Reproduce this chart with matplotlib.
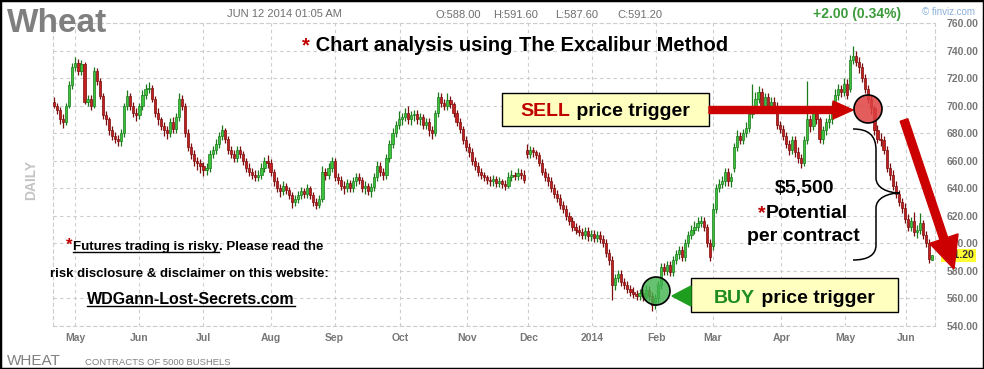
import matplotlib.pyplot as plt
import matplotlib.transforms as mtransforms
from matplotlib.patches import Circle, FancyArrow, Polygon, Rectangle, PathPatch
from matplotlib.path import Path
import numpy as np

plt.rcParams['font.family'] = ['Liberation Sans', 'DejaVu Sans']

W, H = 984, 369

# daily OHLC, Apr 22 2013 .. Jun 12 2014
opens = [
    703, 700, 697, 690, 688, 700, 715, 728, 731, 725,
    730, 703, 705, 700, 725, 718, 707, 693, 690, 682,
    678, 676, 674, 680, 700, 707, 700, 695, 693, 700,
    708, 712, 713, 705, 695, 690, 685, 682, 680, 688,
    683, 692, 705, 700, 680, 670, 665, 660, 658, 656,
    653, 655, 665, 668, 672, 678, 682, 676, 668, 665,
    662, 668, 665, 660, 655, 652, 650, 648, 650, 655,
    660, 658, 652, 645, 640, 638, 642, 639, 635, 630,
    632, 635, 638, 636, 640, 635, 630, 628, 632, 652,
    650, 655, 660, 648, 646, 642, 640, 644, 640, 645,
    648, 646, 640, 642, 638, 641, 648, 656, 652, 650,
    662, 672, 680, 686, 690, 692, 695, 690, 693, 694,
    690, 692, 686, 688, 682, 680, 695, 706, 702, 700,
    704, 701, 695, 688, 683, 675, 670, 666, 660, 656,
    652, 650, 648, 646, 645, 647, 644, 645, 643, 642,
    648, 650, 649, 651, 650, 668, 665, 668, 666, 664,
    658, 652, 648, 645, 640, 636, 633, 628, 625, 620,
    616, 612, 610, 608, 606, 609, 605, 607, 604, 606,
    603, 600, 593, 588, 570, 575, 578, 572, 570, 567,
    565, 563, 562, 564, 561, 566, 562, 555, 560, 570,
    583, 580, 584, 579, 588, 592, 595, 590, 600, 606,
    610, 612, 615, 616, 612, 600, 598, 625, 640, 643,
    645, 652, 645, 655, 670, 678, 675, 680, 684, 694,
    700, 705, 710, 700, 706, 698, 703, 700, 686, 683,
    678, 672, 668, 675, 666, 662, 658, 675, 690, 685,
    695, 690, 676, 682, 688, 690, 700, 708, 712, 710,
    716, 712, 733, 736, 732, 728, 720, 712, 705, 698,
    682, 676, 675, 668, 655, 650, 642, 636, 630, 626,
    618, 612, 616, 608, 610, 615, 606, 600, 588.0,
]
highs = [
    706, 702, 699, 694, 702, 718, 731, 735, 734, 733,
    732, 708, 708, 728, 727, 720, 709, 696, 692, 685,
    681, 679, 683, 702, 711, 709, 703, 698, 702, 711,
    716, 717, 715, 707, 698, 692, 688, 685, 691, 692,
    695, 709, 708, 702, 683, 673, 668, 663, 661, 659,
    658, 668, 671, 676, 681, 686, 684, 678, 671, 668,
    671, 671, 667, 662, 658, 655, 653, 653, 658, 663,
    664, 661, 654, 648, 643, 645, 644, 641, 637, 635,
    638, 641, 640, 643, 642, 637, 633, 635, 656, 655,
    658, 663, 662, 651, 649, 645, 647, 646, 648, 651,
    651, 648, 645, 644, 644, 651, 660, 659, 655, 665,
    675, 684, 689, 696, 695, 698, 700, 696, 697, 697,
    695, 694, 691, 691, 685, 697, 710, 709, 705, 709,
    707, 703, 697, 691, 685, 678, 673, 669, 663, 659,
    655, 652, 650, 649, 650, 649, 648, 647, 646, 652,
    653, 652, 655, 654, 653, 672, 671, 670, 668, 666,
    661, 655, 651, 648, 643, 639, 636, 631, 628, 623,
    619, 615, 613, 611, 612, 612, 610, 610, 609, 609,
    606, 603, 596, 591, 578, 581, 581, 575, 573, 570,
    568, 566, 567, 567, 570, 569, 565, 563, 573, 586,
    586, 587, 587, 591, 595, 598, 598, 603, 609, 613,
    616, 619, 620, 619, 614, 603, 629, 643, 647, 649,
    655, 655, 651, 673, 682, 681, 683, 688, 698, 716,
    710, 714, 713, 709, 709, 706, 706, 703, 689, 686,
    681, 675, 678, 678, 670, 665, 678, 718, 693, 698,
    698, 692, 685, 691, 694, 703, 712, 716, 715, 720,
    719, 737, 743, 740, 735, 731, 723, 715, 708, 700,
    686, 680, 678, 671, 658, 653, 645, 639, 633, 629,
    621, 619, 623, 613, 622, 617, 609, 603, 591.6,
]
lows = [
    698, 694, 687, 684, 686, 698, 712, 725, 722, 722,
    701, 700, 697, 698, 715, 705, 690, 686, 679, 675,
    673, 671, 671, 677, 697, 697, 692, 689, 690, 697,
    705, 709, 703, 692, 686, 682, 678, 676, 677, 680,
    680, 689, 697, 677, 667, 661, 656, 653, 651, 649,
    650, 652, 662, 665, 669, 675, 673, 665, 662, 659,
    659, 662, 657, 652, 649, 647, 645, 645, 647, 652,
    655, 649, 642, 637, 634, 635, 636, 632, 626, 627,
    629, 632, 633, 633, 632, 627, 625, 626, 630, 646,
    647, 652, 645, 643, 639, 636, 637, 637, 637, 642,
    643, 637, 636, 635, 634, 638, 645, 649, 646, 647,
    659, 669, 677, 683, 686, 689, 687, 686, 689, 687,
    686, 683, 683, 678, 676, 678, 692, 699, 697, 697,
    698, 692, 685, 680, 672, 667, 663, 657, 653, 649,
    647, 645, 643, 642, 642, 641, 641, 640, 639, 640,
    645, 646, 646, 647, 644, 662, 662, 663, 661, 656,
    650, 645, 642, 637, 633, 630, 625, 622, 617, 613,
    609, 607, 605, 603, 603, 602, 602, 601, 601, 600,
    597, 590, 584, 559, 566, 572, 569, 567, 564, 562,
    560, 559, 559, 558, 558, 559, 551, 552, 557, 567,
    577, 577, 576, 576, 585, 589, 587, 587, 597, 603,
    607, 609, 612, 609, 597, 587, 595, 622, 637, 640,
    642, 642, 641, 652, 667, 672, 672, 677, 681, 691,
    697, 702, 697, 697, 695, 695, 697, 683, 680, 675,
    669, 664, 665, 663, 658, 655, 656, 672, 681, 682,
    687, 673, 672, 679, 684, 687, 697, 704, 706, 707,
    705, 710, 730, 729, 724, 717, 709, 702, 694, 679,
    673, 671, 665, 652, 646, 639, 633, 627, 622, 615,
    609, 609, 605, 604, 607, 603, 597, 586, 587.6,
]
closes = [
    700, 697, 690, 688, 700, 715, 728, 731, 725, 730,
    703, 705, 700, 725, 718, 707, 693, 690, 682, 678,
    676, 674, 680, 700, 707, 700, 695, 693, 700, 708,
    712, 713, 705, 695, 690, 685, 682, 680, 688, 683,
    692, 705, 700, 680, 670, 665, 660, 658, 656, 653,
    655, 665, 668, 672, 678, 682, 676, 668, 665, 662,
    668, 665, 660, 655, 652, 650, 648, 650, 655, 660,
    658, 652, 645, 640, 638, 642, 639, 635, 630, 632,
    635, 638, 636, 640, 635, 630, 628, 632, 652, 650,
    655, 660, 648, 646, 642, 640, 644, 640, 645, 648,
    646, 640, 642, 638, 641, 648, 656, 652, 650, 662,
    672, 680, 686, 690, 692, 695, 690, 693, 694, 690,
    692, 686, 688, 682, 680, 695, 706, 702, 700, 704,
    701, 695, 688, 683, 675, 670, 666, 660, 656, 652,
    650, 648, 646, 645, 647, 644, 645, 643, 642, 648,
    650, 649, 651, 650, 646, 665, 668, 666, 664, 658,
    652, 648, 645, 640, 636, 633, 628, 625, 620, 616,
    612, 610, 608, 606, 609, 605, 607, 604, 606, 603,
    600, 593, 588, 570, 575, 578, 572, 570, 567, 565,
    563, 562, 564, 561, 566, 562, 555, 560, 570, 583,
    580, 584, 579, 588, 592, 595, 590, 600, 606, 610,
    612, 615, 616, 612, 600, 590, 625, 640, 643, 645,
    652, 645, 648, 670, 678, 675, 680, 684, 694, 700,
    705, 710, 700, 706, 698, 703, 700, 686, 683, 678,
    672, 668, 675, 666, 662, 658, 675, 690, 685, 695,
    690, 676, 682, 688, 690, 700, 708, 712, 710, 716,
    708, 733, 736, 732, 728, 720, 712, 705, 698, 682,
    676, 675, 668, 655, 650, 642, 636, 630, 626, 618,
    612, 616, 608, 610, 615, 606, 600, 589, 591.2,
]

month_pos = [7, 28, 49, 71, 92, 113.5, 135.5, 155.5, 176.5, 197.5, 216, 238.5, 259.5, 279.5]
month_labels = ['May', 'Jun', 'Jul', 'Aug', 'Sep', 'Oct', 'Nov', 'Dec',
                '2014', 'Feb', 'Mar', 'Apr', 'May', 'Jun']
price_ticks = list(range(540, 761, 20))

fig = plt.figure(figsize=(W / 100, H / 100), dpi=100)
ax = fig.add_axes([52.8 / W, 43 / H, (934.5 - 52.8) / W, 303 / H])

# pixel coords of the picture (origin top-left) -> figure
pix = mtransforms.Affine2D().scale(1 / W, -1 / H).translate(0, 1) + fig.transFigure

# candles
o = np.array(opens, float)
c = np.array(closes, float)
h = np.array(highs, float)
l = np.array(lows, float)
x = np.arange(len(c))
up = c >= o
edge = np.where(up, '#1c7a1c', '#7a0e0e')
fill = np.where(up, '#3cc23c', '#c21f1f')
ax.vlines(x, l, h, colors=edge, lw=0.9, zorder=2)
ax.bar(x, np.maximum(np.abs(c - o), 0.8), bottom=np.minimum(o, c), width=0.72,
       color=fill, edgecolor=edge, lw=0.5, zorder=3)

ax.set_xlim(-0.4, 288.7)
ax.set_ylim(540, 760)
ax.set_xticks(month_pos)
ax.set_xticklabels(month_labels, fontweight='bold')
ax.set_yticks(price_ticks)
ax.set_yticklabels([f'{v:.2f}' for v in price_ticks], fontweight='bold')
ax.yaxis.tick_right()
ax.grid(True, color='#cdcdcd', ls=(0, (3, 3)), lw=0.8, zorder=0)
for s in ax.spines.values():
    s.set_linestyle((0, (3, 3)))
    s.set_color('#cdcdcd')
    s.set_linewidth(0.8)
ax.tick_params(axis='both', length=0, labelsize=7.5, labelcolor='#777777')
ax.tick_params(axis='y', pad=8.5)
ax.tick_params(axis='x', pad=5)

# last price tag
blend = mtransforms.blended_transform_factory(ax.transAxes, ax.transData)
ax.text(1.009, c[-1], f'{c[-1]:.2f}', transform=blend, ha='left', va='center',
        fontsize=7.5, fontweight='bold', color='#333333', clip_on=False, zorder=4,
        bbox=dict(boxstyle='square,pad=0.15', fc='#ffff33', ec='none'))

renderer = fig.canvas.get_renderer()


def chain(x0, y0, parts, ha='left', underline=()):
    items = []
    widths = []
    bar = fig.text(0, 0, '|', transform=pix, fontsize=parts[0][1].get('fontsize', 10))
    for s, st in parts:
        t = fig.text(0, 0, s + '|', transform=pix, va='baseline', ha='left', **st)
        bar.set_fontsize(st.get('fontsize', 10))
        wbar = bar.get_window_extent(renderer).width
        widths.append(t.get_window_extent(renderer).width - wbar)
        t.set_text(s)
        items.append(t)
    bar.remove()
    xx = x0 - sum(widths) / 2 if ha == 'center' else x0
    for t, w in zip(items, widths):
        t.set_position((xx, y0))
        xx += w
    for i in underline:
        bb = items[i].get_window_extent(renderer)
        fig.add_artist(plt.Line2D([bb.x0, bb.x1], [y0 + 2, y0 + 2], transform=pix,
                                  color='black', lw=1))
    return items


RED = '#c00000'

# header
fig.text(7, 32, 'Wheat', transform=pix, fontsize=24, fontweight='bold', color='#7f7f7f')
fig.text(227, 17, 'JUN 12 2014 01:05 AM', transform=pix, fontsize=8, color='#6f6f6f')
for xp, s in [(435, 'O:588.00'), (493, 'H:591.60'), (555, 'L:587.60'), (617, 'C:591.20')]:
    fig.text(xp, 18, s, transform=pix, fontsize=8, color='#6f6f6f')
fig.text(813, 18, '+2.00 (0.34%)', transform=pix, fontsize=10, fontweight='bold', color='#3c9a3c')
fig.text(922, 15, '\u00a9 finviz.com', transform=pix, fontsize=7, color='#8ab0da')

# bottom
fig.text(7, 365, 'WHEAT', transform=pix, fontsize=11, color='#808080')
fig.text(85, 365, 'CONTRACTS OF 5000 BUSHELS', transform=pix, fontsize=6.8, color='#808080')
fig.text(31, 180, 'DAILY', transform=pix, rotation=90, ha='center', va='center',
         fontsize=10, fontweight='bold', color='#c4c4c4')

# title
chain(515, 51, [('*', dict(fontsize=14.5, fontweight='bold', color=RED)),
                (' Chart analysis using ', dict(fontsize=14.5, fontweight='bold', color='black')),
                ('The Excalibur Method', dict(fontsize=14.5, fontweight='bold', color='black'))],
      ha='center')

# SELL box and arrow
fig.add_artist(Rectangle((502, 93), 207, 33, transform=pix, fc='#ffffc0', ec='black', lw=1, zorder=5))
chain(605.5, 116, [('SELL', dict(fontsize=14, fontweight='bold', color=RED, zorder=6)),
                   (' price trigger', dict(fontsize=14, fontweight='bold', color='black', zorder=6))],
      ha='center')
fig.add_artist(FancyArrow(709, 110, 144, 0, width=7, head_width=18, head_length=20,
                          length_includes_head=True, transform=pix, color='#cc0000', zorder=5))
fig.add_artist(Circle((868, 109), 14, transform=pix, fc=(0.88, 0.25, 0.25, 0.85), ec='black', lw=1.2, zorder=6))

# BUY box and pointer
fig.add_artist(Rectangle((691, 278), 207, 34, transform=pix, fc='#ffffc0', ec='black', lw=1, zorder=5))
chain(794.5, 303, [('BUY', dict(fontsize=14, fontweight='bold', color='#1e8c1e', zorder=6)),
                   (' price trigger', dict(fontsize=14, fontweight='bold', color='black', zorder=6))],
      ha='center')
fig.add_artist(Polygon([(691, 286), (691, 306), (672, 296)], transform=pix, color='#1e9e1e', zorder=5))
fig.add_artist(Circle((656, 291), 14, transform=pix, fc=(0.25, 0.7, 0.3, 0.8), ec='black', lw=1.2, zorder=6))

# brace and potential text
verts = [(853, 129), (868, 129), (876, 135), (876, 150),
         (876, 178),
         (876, 188), (888, 193), (900, 193),
         (888, 193), (876, 198), (876, 208),
         (876, 245),
         (876, 255), (868, 260), (853, 260)]
codes = [Path.MOVETO, Path.CURVE4, Path.CURVE4, Path.CURVE4,
         Path.LINETO,
         Path.CURVE4, Path.CURVE4, Path.CURVE4,
         Path.CURVE4, Path.CURVE4, Path.CURVE4,
         Path.LINETO,
         Path.CURVE4, Path.CURVE4, Path.CURVE4]
fig.add_artist(PathPatch(Path(verts, codes), transform=pix, fc='none', ec='black', lw=1.1, zorder=5))
chain(805, 193, [('$5,500', dict(fontsize=14, fontweight='bold', color='black'))], ha='center')
chain(803, 218, [('*', dict(fontsize=14, fontweight='bold', color=RED)),
                 ('Potential', dict(fontsize=14, fontweight='bold', color='black'))], ha='center')
chain(804, 241, [('per contract', dict(fontsize=14, fontweight='bold', color='black'))], ha='center')

# big down arrow
fig.add_artist(FancyArrow(904, 120, 50, 149, width=8, head_width=30, head_length=32,
                          length_includes_head=True, transform=pix, color='#cc0000', zorder=7))

# disclaimer
chain(195, 250, [('*', dict(fontsize=12, fontweight='bold', color=RED)),
                 ('Futures trading is risky', dict(fontsize=9.5, fontweight='bold', color='black')),
                 ('. Please read the', dict(fontsize=9.5, fontweight='bold', color='black'))],
      ha='center', underline=(1,))
chain(190, 277, [('risk disclosure & disclaimer on this website:',
                  dict(fontsize=9.5, fontweight='bold', color='black'))], ha='center')
chain(191, 304, [('WDGann-Lost-Secrets.com', dict(fontsize=11.5, fontweight='bold', color='black'))],
      ha='center', underline=(0,))

# outer frame
fig.add_artist(Rectangle((0, 0), 1, 1, transform=fig.transFigure, fill=False, ec='black', lw=2.5, zorder=10))

fig.savefig('out.png', dpi=100)
